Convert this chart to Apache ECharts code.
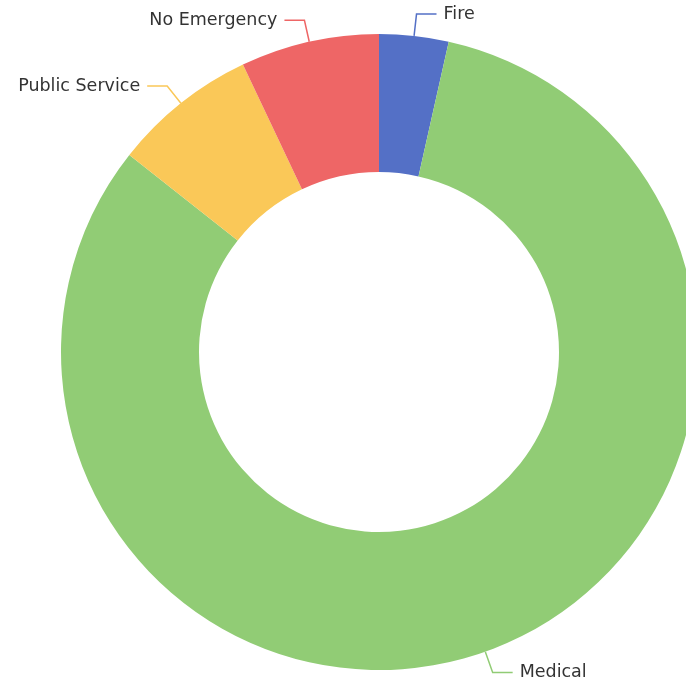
<!DOCTYPE html>
<html>
<head>
<meta charset="utf-8">
<script src="https://cdn.jsdelivr.net/npm/echarts@6/dist/echarts.min.js"></script>
<style>
  html, body { margin: 0; padding: 0; background: #ffffff; }
  #chart { width: 686px; height: 686px; }
</style>
</head>
<body>
<div id="chart"></div>
<script>
// Call categories and their counts, in drawing order (clockwise from the top)
const categories = ['Fire', 'Medical', 'Public Service', 'No Emergency'];
const counts = [12, 280, 25, 24];

const chart = echarts.init(document.getElementById('chart'), null, { renderer: 'canvas' });

chart.setOption({
  animation: false,
  color: ['#5470c6', '#91cc75', '#fac858', '#ee6666'],
  series: [{
    type: 'pie',
    center: [379, 352],
    radius: [180, 318],
    startAngle: 90,
    clockwise: true,
    avoidLabelOverlap: true,
    label: {
      show: true,
      position: 'outside',
      color: '#333',
      fontSize: 17.5,
      fontFamily: 'DejaVu Sans',
      distanceToLabelLine: 7
    },
    labelLine: {
      show: true,
      length: 22,
      length2: 20,
      lineStyle: { width: 1.5 }
    },
    data: categories.map((name, i) => ({ name, value: counts[i] }))
  }]
});
</script>
</body>
</html>
